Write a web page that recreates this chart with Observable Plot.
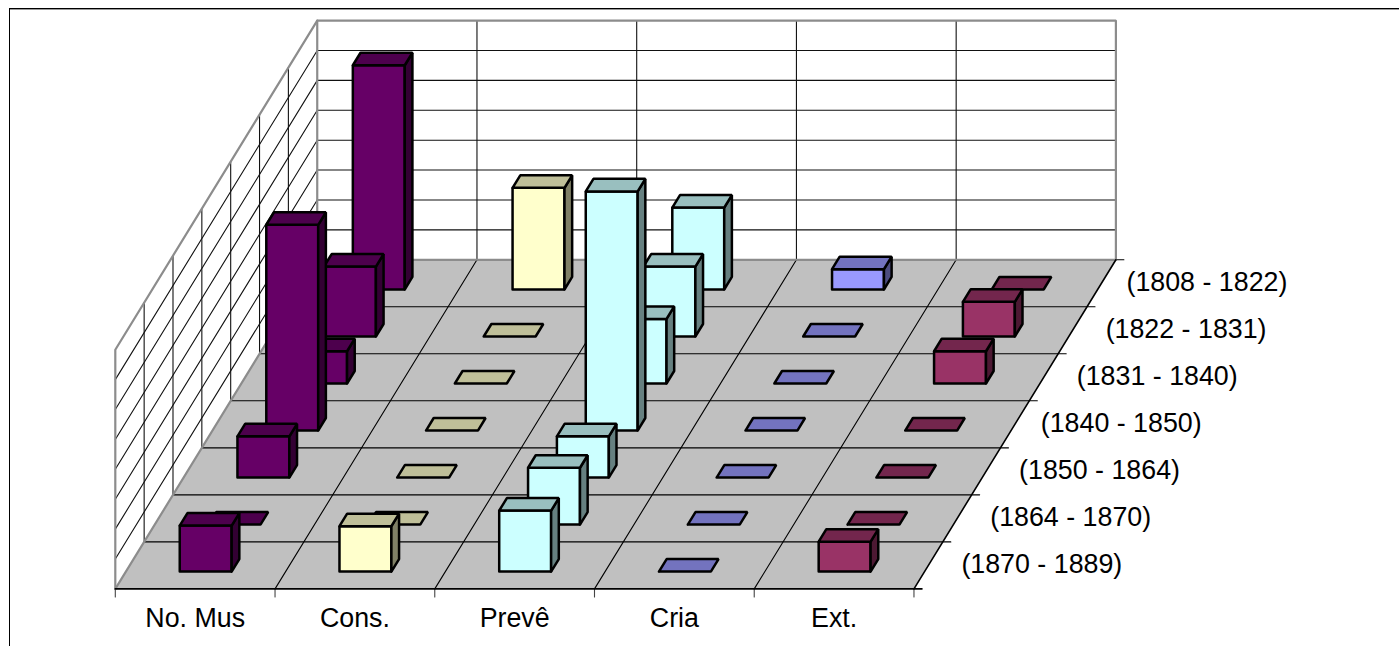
<!DOCTYPE html>
<html>
<head>
<meta charset="utf-8">
<script src="https://cdn.jsdelivr.net/npm/d3@7"></script>
<script src="https://cdn.jsdelivr.net/npm/@observablehq/plot@0.6"></script>
<style>
  html, body { margin: 0; padding: 0; background: #fff; overflow: hidden; }
  #chart { position: relative; width: 1399px; height: 646px; }
  #chart svg { display: block; background: transparent; }
  #frame { position: absolute; left: 9px; top: 8px; right: 0; bottom: 0;
           border-top: 1px solid #000; border-left: 1px solid #000;
           box-shadow: inset 0 1px 0 #999; }
</style>
</head>
<body>
<div id="chart"><div id="frame"></div></div>
<script>
// Activity per period, one list per category, listed from the oldest period to the newest.
const periods = ["(1808 - 1822)", "(1822 - 1831)", "(1831 - 1840)", "(1840 - 1850)", "(1850 - 1864)", "(1864 - 1870)", "(1870 - 1889)"];
const categories = ["No. Mus", "Cons.", "Prevê", "Cria", "Ext."];
const noMus = [37.5, 11.7, 5.4, 34.4, 6.9, 0, 7.7];
const cons = [17, 0, 0, 0, 0, 0, 7.6];
const preve = [13.7, 11.7, 10.8, 40, 6.9, 9.5, 10.2];
const cria = [3.4, 0, 0, 0, 0, 0, 0];
const ext = [0, 5.8, 5.4, 0, 0, 0, 5];
const series = [noMus, cons, preve, cria, ext];
const faceColors = ["#660066", "#FFFFCC", "#CCFFFF", "#9999FF", "#993366"];
const topColors = ["#4D004D", "#BFBF99", "#99BFBF", "#7373BF", "#73264D"];
const sideColors = ["#330033", "#808066", "#668080", "#4D4D80", "#4D1933"];

// Oblique projection: columns run along x, rows recede up and to the right, values rise.
const gridStep = 5, gridCount = 8;
const rowCount = periods.length, colCount = categories.length;
const skewX = 0.1806, skewY = 1.5729;
const project = (c, r, v = 0) => ({x: c + r * skewX, y: r * skewY + v / gridStep});

// Bar footprint inside its cell, as fractions of the cell.
const barStart = 0.337, barWidth = 0.325, rowFront = 0.368, rowDepth = 0.266;
const tickC = 0.05, tickV = 1.34;

const segment = (a, b, id) => [{...a, id}, {...b, id}];
const backRows = d3.range(gridCount + 1), colLines = d3.range(colCount + 1), rowLines = d3.range(rowCount + 1);

const floor = [project(0, 0), project(colCount, 0), project(colCount, rowCount), project(0, rowCount), project(0, 0)]
  .map(p => ({...p, id: "floor"}));

const wallGrid = [
  ...backRows.slice(1, -1).flatMap(i => segment(project(0, rowCount, i * gridStep), project(colCount, rowCount, i * gridStep), `bh${i}`)),
  ...colLines.slice(1, -1).flatMap(c => segment(project(c, rowCount), project(c, rowCount, gridCount * gridStep), `bv${c}`)),
  ...backRows.slice(1, -1).flatMap(i => segment(project(0, 0, i * gridStep), project(0, rowCount, i * gridStep), `lh${i}`)),
  ...rowLines.slice(1, -1).flatMap(r => segment(project(0, r), project(0, r, gridCount * gridStep), `lv${r}`))
];

const floorGrid = [
  ...rowLines.slice(1).flatMap(r => segment(project(0, r), project(colCount + tickC, r), `fr${r}`)),
  ...colLines.slice(1, -1).flatMap(c => segment(project(c, 0), project(c, rowCount), `fc${c}`))
];

const floorEdge = [
  ...segment(project(0, 0), project(colCount + tickC, 0), "front"),
  ...segment(project(colCount, 0), project(colCount, rowCount), "right")
];
const ticks = colLines.flatMap(c => segment(project(c, 0), project(c, 0, -tickV), `t${c}`));

const wallEdge = [
  [project(0, 0), project(0, 0, gridCount * gridStep), project(0, rowCount, gridCount * gridStep),
   project(colCount, rowCount, gridCount * gridStep), project(colCount, rowCount)].map(p => ({...p, id: "outer"})),
  segment(project(0, 0), project(0, rowCount), "floorLeft"),
  segment(project(0, rowCount), project(colCount, rowCount), "floorBack"),
  segment(project(0, rowCount), project(0, rowCount, gridCount * gridStep), "corner")
].flat();

// Bars are painted from the back row to the front so nearer ones cover farther ones.
const faces = [];
const addFace = (points, id, fill) => {
  for (const p of [...points, points[0]]) faces.push({...p, id, fill});
};
periods.forEach((period, i) => {
  const r = rowCount - 1 - i;
  categories.forEach((category, c) => {
    const v = series[c][i];
    const c0 = c + barStart, c1 = c0 + barWidth, r0 = r + rowFront, r1 = r0 + rowDepth;
    if (v > 0) {
      addFace([project(c0, r0), project(c1, r0), project(c1, r0, v), project(c0, r0, v)], `${i}-${c}-front`, faceColors[c]);
      addFace([project(c1, r0), project(c1, r1), project(c1, r1, v), project(c1, r0, v)], `${i}-${c}-side`, sideColors[c]);
    }
    addFace([project(c0, r0, v), project(c1, r0, v), project(c1, r1, v), project(c0, r1, v)], `${i}-${c}-top`, topColors[c]);
  });
});

// The period labels step along the floor's right edge; two of them sit slightly closer to it.
const labelPull = {"(1808 - 1822)": 0.05, "(1840 - 1850)": 0.045};
const categoryLabels = categories.map((label, c) => ({label, ...project(c + 0.5, 0)}));
const periodLabels = periods.map((label, i) => ({label, ...project(colCount - (labelPull[label] ?? 0), rowCount - 1 - i + 0.5)}));

const font = {fontFamily: "Liberation Sans, Arial, sans-serif", fontSize: 26.8, fill: "#000"};

const plot = Plot.plot({
  width: 1399,
  height: 646,
  axis: null,
  style: {background: "transparent"},
  x: {domain: [0, project(colCount, rowCount).x], range: [114.8, 1115.4]},
  y: {domain: [0, project(0, rowCount, gridCount * gridStep).y], range: [588.4, 20.1]},
  color: {type: "identity"},
  marks: [
    Plot.line(floor, {x: "x", y: "y", z: "id", fill: "#C0C0C0", stroke: "none"}),
    Plot.line(wallGrid, {x: "x", y: "y", z: "id", stroke: "#111", strokeWidth: 1.1}),
    Plot.line(floorGrid, {x: "x", y: "y", z: "id", stroke: "#000", strokeWidth: 1.1}),
    Plot.line(ticks, {x: "x", y: "y", z: "id", stroke: "#444", strokeWidth: 1.1}),
    Plot.line(wallEdge, {x: "x", y: "y", z: "id", stroke: "#8C8C8C", strokeWidth: 2.2, strokeLinejoin: "miter"}),
    Plot.line(floorEdge, {x: "x", y: "y", z: "id", stroke: "#000", strokeWidth: 1.6}),
    Plot.line(faces, {x: "x", y: "y", z: "id", fill: "fill", stroke: "#000", strokeWidth: 2.5, strokeLinejoin: "miter"}),
    Plot.text(categoryLabels, {x: "x", y: "y", text: "label", dy: 30, textAnchor: "middle", ...font}),
    Plot.text(periodLabels, {x: "x", y: "y", text: "label", dx: 33, dy: -0.5, textAnchor: "start", ...font})
  ]
});
document.getElementById("chart").appendChild(plot);
</script>
</body>
</html>
